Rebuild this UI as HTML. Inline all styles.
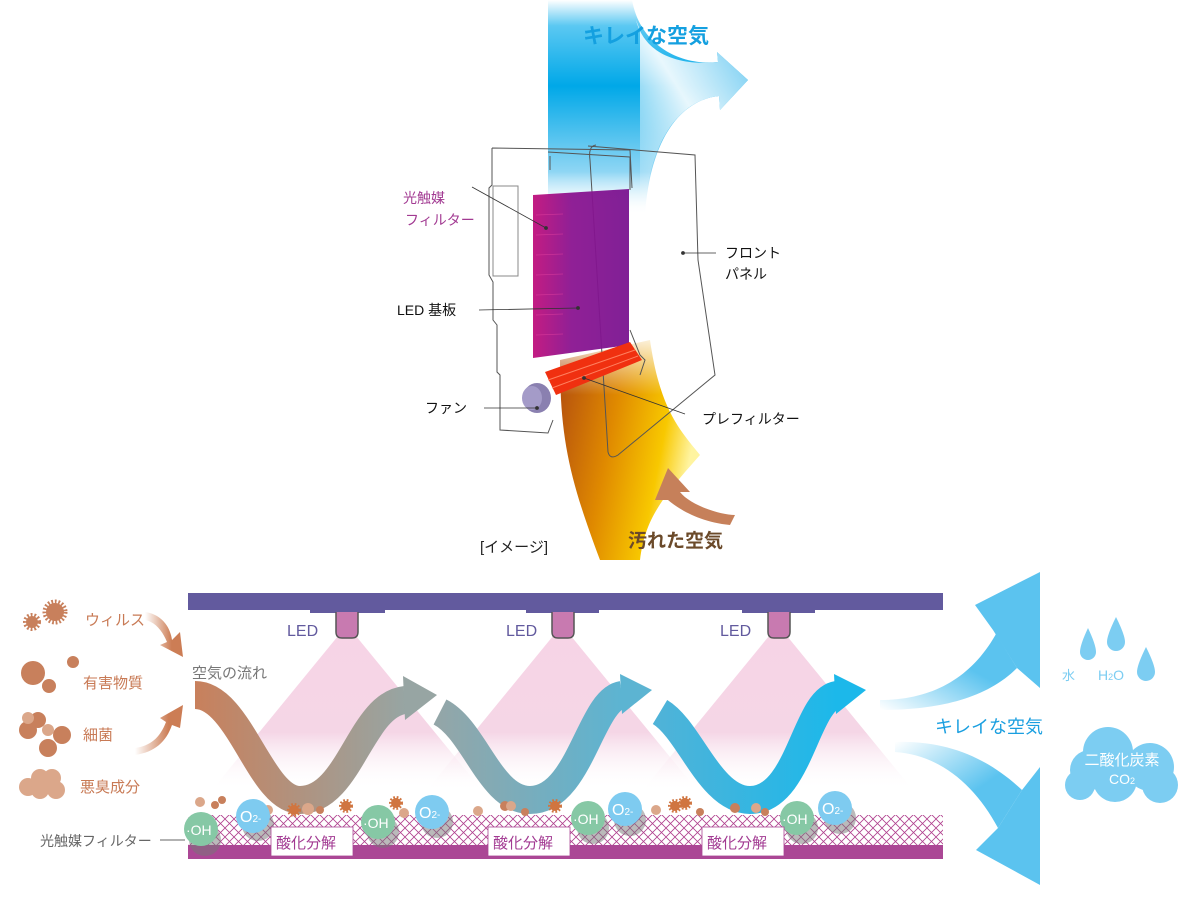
<!DOCTYPE html>
<html><head><meta charset="utf-8"><style>
html,body{margin:0;padding:0;background:#fff;width:1200px;height:900px;overflow:hidden}
svg{display:block}
text{font-family:"Liberation Sans","Noto Sans CJK JP",sans-serif}
</style></head><body>
<svg width="1200" height="900" viewBox="0 0 1200 900" xmlns="http://www.w3.org/2000/svg">
<defs>
<linearGradient id="blue" x1="0" y1="0" x2="0" y2="1">
<stop offset="0" stop-color="#fff"/><stop offset="0.12" stop-color="#5bc8f2"/><stop offset="0.4" stop-color="#00a8e8"/><stop offset="0.8" stop-color="#8fd6f4"/><stop offset="1" stop-color="#fff" stop-opacity="0"/></linearGradient>
<linearGradient id="topArr" x1="0" y1="1" x2="1" y2="0">
<stop offset="0" stop-color="#fff" stop-opacity="0"/><stop offset="0.5" stop-color="#fff" stop-opacity="0.9"/><stop offset="1" stop-color="#5bc3ef"/></linearGradient>
<linearGradient id="blueArr" x1="0" y1="1" x2="1" y2="0">
<stop offset="0" stop-color="#fff"/><stop offset="0.6" stop-color="#5bc3ef"/></linearGradient>
<linearGradient id="blueArr2" x1="0" y1="0" x2="1" y2="1">
<stop offset="0" stop-color="#fff"/><stop offset="0.6" stop-color="#5bc3ef"/></linearGradient>
<linearGradient id="orange" x1="0" y1="0" x2="1" y2="0.3">
<stop offset="0" stop-color="#b04a10"/><stop offset="0.45" stop-color="#e08a00"/><stop offset="0.8" stop-color="#f8c800"/><stop offset="1" stop-color="#fff4a0"/></linearGradient>
<linearGradient id="ofade" x1="0" y1="0" x2="0" y2="1"><stop offset="0" stop-color="#fff" stop-opacity="1"/><stop offset="1" stop-color="#fff" stop-opacity="0"/></linearGradient>
<linearGradient id="purp" x1="0" y1="0" x2="1" y2="0"><stop offset="0" stop-color="#c0107c"/><stop offset="0.4" stop-color="#8a1490"/><stop offset="1" stop-color="#7a1490"/></linearGradient>
<linearGradient id="cone" x1="0" y1="0" x2="0" y2="1"><stop offset="0" stop-color="#f7d4e6"/><stop offset="0.65" stop-color="#f5d6e6"/><stop offset="1" stop-color="#fff" stop-opacity="0"/></linearGradient>
<linearGradient id="w1" x1="0" y1="0" x2="1" y2="0"><stop offset="0" stop-color="#c8805c"/><stop offset="1" stop-color="#97a5a3"/></linearGradient>
<linearGradient id="w2" x1="0" y1="0" x2="1" y2="0"><stop offset="0" stop-color="#93a6a8"/><stop offset="1" stop-color="#5cb4d2"/></linearGradient>
<linearGradient id="w3" x1="0" y1="0" x2="1" y2="0"><stop offset="0" stop-color="#4fb3d8"/><stop offset="1" stop-color="#1cb8ea"/></linearGradient>
<linearGradient id="oarr" x1="0" y1="0" x2="1" y2="0"><stop offset="0" stop-color="#fff"/><stop offset="0.7" stop-color="#cc7d55"/></linearGradient>
<pattern id="hatch" width="9" height="9" patternUnits="userSpaceOnUse">
<path d="M0,0 L9,9 M9,0 L0,9" stroke="#b0408e" stroke-width="0.8"/></pattern>
</defs>

<!-- top blue flow -->
<path d="M548,0 L632,0 C640,45 680,66 718,62 L717,52 L748,80 L720,110 L719,96 C680,100 650,140 645,215 L548,215 Z" fill="url(#blue)"/>
<path d="M636,20 C645,55 680,66 718,62 L717,52 L748,80 L720,110 L719,96 C680,100 652,140 646,200 L640,200 L640,30 Z" fill="url(#topArr)"/>

<!-- orange flow -->
<path d="M560,360 L650,340 C660,410 680,430 700,455 C660,500 645,520 640,560 L600,560 C570,480 560,440 560,360 Z" fill="url(#orange)"/>
<path d="M556,330 L660,330 L660,395 L556,395 Z" fill="url(#ofade)"/>
<path d="M655,500 L668,468 L690,492 L680,492 C690,505 720,515 735,515 L730,525 C700,522 680,510 668,500 Z" fill="#c6805a"/>
<text x="628" y="547" font-size="19" fill="#6b4a2a" font-weight="bold">汚れた空気</text>

<!-- device outline -->
<g fill="none" stroke="#555" stroke-width="1">
<path d="M492,148 L630,150 L632,188 M492,148 L492,185 L489,188 L489,275 L493,282 L493,320 L497,325 L497,372 L500,375 L500,430 L548,433 L553,420"/>
<path d="M548,152 L630,157 M550,156 L550,170 M630,157 L630,190"/>
<rect x="493" y="186" width="25" height="90" stroke="#888"/>
<path d="M588,146 L695,155 L698,260 L715,375 L618,455 Q610,460 608,452 L590,160 Q588,146 596,145"/>
<path d="M630,330 L640,355 L645,360 L640,375"/>
</g>
<!-- filter -->
<path d="M533,195 L629,189 L629,345 L533,358 Z" fill="url(#purp)" opacity="0.95"/>
<g stroke="#e040a0" stroke-width="0.8" opacity="0.6"><path d="M536,215 L563,214 M536,235 L563,234 M536,255 L563,254 M536,275 L563,274 M536,295 L563,294 M536,315 L563,314 M536,335 L563,334"/></g>
<!-- fan -->
<path d="M545,372 L630,342 L642,360 L556,395 Z" fill="#f03010"/>
<path d="M548,380 L635,350 M552,388 L638,356" stroke="#ff8060" stroke-width="1"/>
<ellipse cx="537" cy="398" rx="14" ry="15" fill="#8a80b0"/>
<ellipse cx="532" cy="398" rx="10" ry="12" fill="#a49bc8"/>

<!-- callouts -->
<g stroke="#333" stroke-width="0.8" fill="#333">
<path d="M472,187 L546,228"/><circle cx="546" cy="228" r="1.5"/>
<path d="M479,310 L578,308"/><circle cx="578" cy="308" r="1.5"/>
<path d="M683,253 L716,253"/><circle cx="683" cy="253" r="1.5"/>
<path d="M484,408 L537,408"/><circle cx="537" cy="408" r="1.5"/>
<path d="M584,378 L685,414"/><circle cx="584" cy="378" r="1.5"/>
</g>
<text x="403" y="203" font-size="14" fill="#a23a92">光触媒</text>
<text x="405" y="225" font-size="14" fill="#a23a92">フィルター</text>
<text x="397" y="315" font-size="14" fill="#111">LED 基板</text>
<text x="725" y="258" font-size="14" fill="#111">フロント</text>
<text x="725" y="279" font-size="14" fill="#111">パネル</text>
<text x="425" y="413" font-size="14" fill="#111">ファン</text>
<text x="702" y="424" font-size="14" fill="#111">プレフィルター</text>
<text x="480" y="552" font-size="15" fill="#222">[イメージ]</text>
<text x="583" y="43" font-size="21" fill="#14a0e0" font-weight="bold">キレイな空気</text>

<!-- ===== bottom diagram ===== -->
<polygon points="347,625 482,790 212,790" fill="url(#cone)"/>
<polygon points="562,625 697,790 427,790" fill="url(#cone)"/>
<polygon points="778,625 913,790 643,790" fill="url(#cone)"/>
<rect x="188" y="593" width="755" height="17" fill="#625a9e"/>
<g fill="#625a9e"><rect x="310" y="609" width="75" height="4"/><rect x="526" y="609" width="73" height="4"/><rect x="742" y="609" width="73" height="4"/></g>
<g fill="#c87ab0" stroke="#555" stroke-width="1.5">
<path d="M336,612 L336,632 Q336,638 342,638 L352,638 Q358,638 358,632 L358,612"/>
<path d="M552,612 L552,632 Q552,638 558,638 L568,638 Q574,638 574,632 L574,612"/>
<path d="M768,612 L768,632 Q768,638 774,638 L784,638 Q790,638 790,632 L790,612"/>
</g>
<g font-size="16" fill="#625a9e"><text x="287" y="636">LED</text><text x="506" y="636">LED</text><text x="720" y="636">LED</text></g>

<rect x="188" y="815" width="755" height="32" fill="url(#hatch)"/>
<rect x="188" y="845" width="755" height="14" fill="#ab4795"/>

<!-- waves -->
<path d="M195,695 C240,695 260,800 300,800 C350,800 360,705 405,700" fill="none" stroke="url(#w1)" stroke-width="28"/>
<polygon points="403,676 437,695 405,720" fill="#97a5a3"/>
<path d="M440,712 C475,730 490,800 530,800 C580,800 590,700 622,695" fill="none" stroke="url(#w2)" stroke-width="28"/>
<polygon points="620,674 652,690 622,714" fill="#5cb4d2"/>
<path d="M660,712 C690,730 710,800 750,800 C800,800 805,700 837,695" fill="none" stroke="url(#w3)" stroke-width="28"/>
<polygon points="834,674 866,690 836,714" fill="#1cb8ea"/>
<text x="192" y="678" font-size="15" fill="#777">空気の流れ</text>

<!-- particles on filter -->
<g fill="#c8805c">
<circle cx="215" cy="805" r="4"/><circle cx="222" cy="800" r="4"/><circle cx="320" cy="810" r="4"/><circle cx="505" cy="806" r="5"/><circle cx="525" cy="812" r="4"/><circle cx="735" cy="808" r="5"/><circle cx="765" cy="812" r="4"/><circle cx="700" cy="812" r="4"/>
</g>
<g fill="#dba78a"><circle cx="200" cy="802" r="5"/><circle cx="268" cy="810" r="5"/><circle cx="404" cy="813" r="5"/><circle cx="442" cy="808" r="5"/><circle cx="478" cy="811" r="5"/><circle cx="511" cy="806" r="5"/><circle cx="656" cy="810" r="5"/><circle cx="756" cy="808" r="5"/><circle cx="308" cy="809" r="6"/></g>
<g fill="#d07540" stroke="#d07540" stroke-width="4" stroke-dasharray="1.5 1.5"><circle cx="294" cy="810" r="5"/><circle cx="346" cy="806" r="5"/><circle cx="396" cy="803" r="5"/><circle cx="555" cy="806" r="5"/><circle cx="675" cy="806" r="5"/><circle cx="685" cy="803" r="5"/></g>
<g fill="#777" opacity="0.5"><circle cx="205" cy="840" r="16"/><circle cx="383" cy="832" r="16"/><circle cx="593" cy="828" r="16"/><circle cx="802" cy="828" r="16"/><circle cx="258" cy="825" r="16"/><circle cx="437" cy="822" r="16"/><circle cx="630" cy="820" r="16"/><circle cx="840" cy="818" r="16"/></g>
<g fill="#86c8a5"><circle cx="201" cy="829" r="17"/><circle cx="378" cy="822" r="17"/><circle cx="588" cy="818" r="17"/><circle cx="797" cy="818" r="17"/></g>
<g fill="#7ecbf0"><circle cx="253" cy="816" r="17"/><circle cx="432" cy="812" r="17"/><circle cx="625" cy="809" r="17"/><circle cx="835" cy="808" r="17"/></g>
<g font-size="14" fill="#fff"><text x="186" y="835">·OH</text><text x="363" y="828">·OH</text><text x="573" y="824">·OH</text><text x="782" y="824">·OH</text>
<text x="240" y="822" font-size="16">O<tspan font-size="10">2-</tspan></text><text x="419" y="818" font-size="16">O<tspan font-size="10">2-</tspan></text><text x="612" y="815" font-size="16">O<tspan font-size="10">2-</tspan></text><text x="822" y="814" font-size="16">O<tspan font-size="10">2-</tspan></text></g>
<g fill="#fff" stroke="#ab4795" stroke-width="0.8"><rect x="271" y="827" width="82" height="29"/><rect x="488" y="827" width="82" height="29"/><rect x="702" y="827" width="82" height="29"/></g>
<g font-size="15" fill="#a23a92"><text x="276" y="848">酸化分解</text><text x="493" y="848">酸化分解</text><text x="707" y="848">酸化分解</text></g>
<text x="40" y="846" font-size="14" fill="#666">光触媒フィルター</text>
<path d="M160,840 L185,840" stroke="#666"/>

<!-- left particles -->
<g fill="#c8805c" stroke="#c8805c" stroke-dasharray="1.5 1.5">
<circle cx="32" cy="622" r="6" stroke-width="6"/><circle cx="55" cy="612" r="9" stroke-width="7"/>
</g>
<g fill="#c8805c">
<circle cx="33" cy="673" r="12"/><circle cx="49" cy="686" r="7"/><circle cx="73" cy="662" r="6"/>
<circle cx="28" cy="730" r="9"/><circle cx="38" cy="720" r="8"/><circle cx="48" cy="748" r="9"/><circle cx="62" cy="735" r="9"/>
</g>
<g fill="#dba78a"><circle cx="28" cy="718" r="6"/><circle cx="48" cy="730" r="6"/>
<circle cx="28" cy="787" r="9"/><circle cx="40" cy="778" r="9"/><circle cx="52" cy="778" r="9"/><circle cx="40" cy="790" r="9"/><circle cx="56" cy="790" r="9"/></g>
<g font-size="15" fill="#c87a55"><text x="85" y="625">ウィルス</text><text x="83" y="688">有害物質</text><text x="83" y="740">細菌</text><text x="80" y="792">悪臭成分</text></g>
<path d="M145,612 C160,614 170,625 172,640 L180,632 L183,657 L160,645 L167,642 C162,630 155,622 145,620 Z" fill="url(#oarr)"/>
<path d="M135,748 C150,746 160,738 166,722 L160,718 L183,705 L180,728 L172,725 C166,742 155,752 135,755 Z" fill="url(#oarr)"/>

<!-- right big arrows -->
<path d="M880,700 C930,700 970,680 996,634 L1017,668 C985,700 935,710 880,710 Z" fill="url(#blueArr)"/>
<polygon points="993,630 975,605 1040,572 1040,688 1017,668" fill="#5bc3ef"/>
<path d="M895,742 C950,740 990,760 1022,790 L998,828 C975,785 940,755 895,752 Z" fill="url(#blueArr2)"/>
<polygon points="1022,790 1040,767 1040,885 976,850 998,828" fill="#5bc3ef"/>
<text x="935" y="733" font-size="18" fill="#1a9fe0">キレイな空気</text>
<g fill="#7ccdf2">
<path d="M1088,628 Q1080,645 1080,652 A8,8 0 0 0 1096,652 Q1096,645 1088,628 Z"/>
<path d="M1116,617 Q1107,635 1107,642 A9,9 0 0 0 1125,642 Q1125,635 1116,617 Z"/>
<path d="M1146,647 Q1137,665 1137,672 A9,9 0 0 0 1155,672 Q1155,665 1146,647 Z"/>
</g>
<text x="1062" y="680" font-size="13" fill="#7ccdf2">水</text>
<text x="1098" y="680" font-size="14" fill="#7ccdf2">H<tspan font-size="9">2</tspan>O</text>
<g fill="#7ccdf2">
<circle cx="1108" cy="752" r="25"/><circle cx="1090" cy="770" r="20"/><circle cx="1150" cy="767" r="24"/><circle cx="1115" cy="780" r="22"/><circle cx="1160" cy="785" r="18"/><circle cx="1080" cy="785" r="15"/>
</g>
<text x="1122" y="765" font-size="15" fill="#fff" text-anchor="middle">二酸化炭素</text>
<text x="1122" y="784" font-size="14" fill="#fff" text-anchor="middle">CO<tspan font-size="9">2</tspan></text>
</svg>
</body></html>
